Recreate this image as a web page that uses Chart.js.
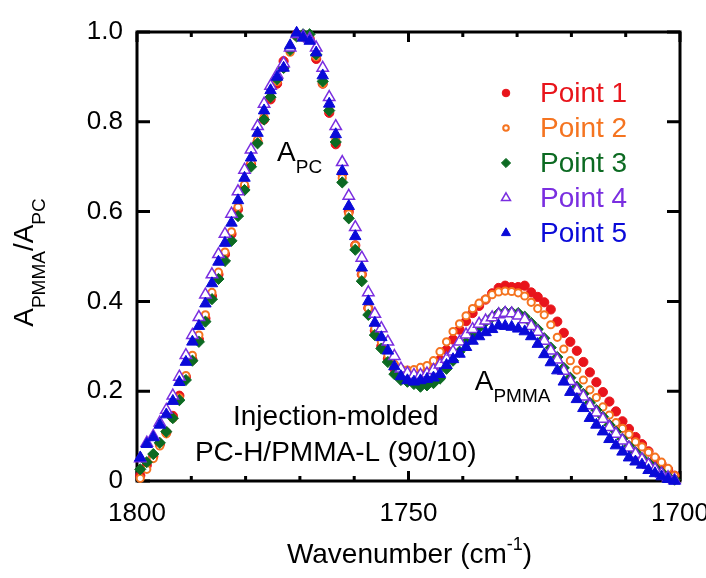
<!DOCTYPE html>
<html>
<head>
<meta charset="utf-8">
<script src="https://cdn.jsdelivr.net/npm/chart.js@4/dist/chart.umd.min.js"></script>
<style>
  html, body { margin: 0; padding: 0; background: #fff; }
  #wrap { width: 706px; height: 578px; }
</style>
</head>
<body>
<div id="wrap"><canvas id="chart" width="706" height="578"></canvas></div>
<script>
// wavenumber (cm-1) of each measured point, same for all five positions
const wavenumber = [
  1799.4, 1798.2, 1797.0, 1795.8, 1794.6, 1793.4, 1792.2, 1791.0, 1789.8, 1788.6,
  1787.4, 1786.2, 1785.0, 1783.8, 1782.6, 1781.4, 1780.2, 1779.0, 1777.8, 1776.6,
  1775.4, 1774.2, 1773.0, 1771.8, 1770.6, 1769.4, 1768.2, 1767.0, 1765.8, 1764.6,
  1763.4, 1762.2, 1761.0, 1759.8, 1758.6, 1757.4, 1756.2, 1755.0, 1753.8, 1752.6,
  1751.4, 1750.2, 1749.0, 1747.8, 1746.6, 1745.4, 1744.2, 1743.0, 1741.8, 1740.6,
  1739.4, 1738.2, 1737.0, 1735.8, 1734.6, 1733.4, 1732.2, 1731.0, 1729.8, 1728.6,
  1727.4, 1726.2, 1725.0, 1723.8, 1722.6, 1721.4, 1720.2, 1719.0, 1717.8, 1716.6,
  1715.4, 1714.2, 1713.0, 1711.8, 1710.6, 1709.4, 1708.2, 1707.0, 1705.8, 1704.6,
  1703.4, 1702.2, 1701.0
];

const point1 = [
  0.012, 0.035, 0.055, 0.082, 0.108, 0.145, 0.190, 0.232, 0.270, 0.315,
  0.362, 0.412, 0.460, 0.505, 0.550, 0.605, 0.655, 0.705, 0.755, 0.805,
  0.850, 0.885, 0.935, 0.960, 0.995, 0.990, 0.985, 0.940, 0.885, 0.820,
  0.750, 0.685, 0.600, 0.525, 0.460, 0.385, 0.335, 0.300, 0.272, 0.250,
  0.238, 0.233, 0.232, 0.236, 0.240, 0.252, 0.270, 0.292, 0.315, 0.337,
  0.356, 0.374, 0.390, 0.404, 0.418, 0.430, 0.435, 0.432, 0.432, 0.435,
  0.420, 0.410, 0.398, 0.382, 0.355, 0.330, 0.310, 0.290, 0.265, 0.242,
  0.220, 0.198, 0.177, 0.155, 0.133, 0.116, 0.098, 0.082, 0.066, 0.050,
  0.038, 0.026, 0.012
];

const point2 = [
  0.006, 0.026, 0.050, 0.078, 0.105, 0.140, 0.185, 0.235, 0.280, 0.325,
  0.370, 0.420, 0.465, 0.510, 0.555, 0.610, 0.660, 0.710, 0.760, 0.810,
  0.855, 0.890, 0.920, 0.955, 0.990, 0.990, 0.990, 0.945, 0.885, 0.825,
  0.760, 0.675, 0.595, 0.525, 0.460, 0.385, 0.340, 0.310, 0.280, 0.260,
  0.250, 0.247, 0.248, 0.253, 0.257, 0.268, 0.288, 0.310, 0.333, 0.350,
  0.368, 0.384, 0.396, 0.405, 0.415, 0.421, 0.423, 0.422, 0.419, 0.412,
  0.398, 0.384, 0.370, 0.348, 0.320, 0.294, 0.268, 0.247, 0.225, 0.203,
  0.186, 0.165, 0.147, 0.130, 0.117, 0.104, 0.087, 0.076, 0.064, 0.053,
  0.042, 0.028, 0.012
];

const point3 = [
  0.026, 0.042, 0.060, 0.085, 0.110, 0.140, 0.180, 0.225, 0.268, 0.310,
  0.355, 0.405, 0.450, 0.490, 0.535, 0.590, 0.648, 0.700, 0.752, 0.805,
  0.855, 0.895, 0.920, 0.960, 0.990, 0.995, 0.995, 0.950, 0.890, 0.825,
  0.755, 0.665, 0.585, 0.515, 0.445, 0.370, 0.325, 0.295, 0.265, 0.238,
  0.225, 0.221, 0.216, 0.210, 0.213, 0.218, 0.228, 0.250, 0.268, 0.288,
  0.308, 0.326, 0.342, 0.355, 0.365, 0.374, 0.377, 0.376, 0.374, 0.366,
  0.352, 0.338, 0.318, 0.297, 0.276, 0.252, 0.230, 0.210, 0.194, 0.174,
  0.158, 0.143, 0.125, 0.110, 0.094, 0.078, 0.064, 0.051, 0.040, 0.029,
  0.019, 0.010, 0.003
];

const point4 = [
  0.050, 0.085, 0.100, 0.130, 0.158, 0.190, 0.232, 0.280, 0.325, 0.365,
  0.415, 0.460, 0.505, 0.550, 0.595, 0.645, 0.693, 0.738, 0.790, 0.840,
  0.880, 0.905, 0.930, 0.965, 0.995, 0.990, 0.985, 0.965, 0.920, 0.855,
  0.790, 0.710, 0.635, 0.565, 0.497, 0.420, 0.372, 0.340, 0.310, 0.278,
  0.250, 0.240, 0.236, 0.236, 0.239, 0.247, 0.259, 0.272, 0.288, 0.310,
  0.326, 0.338, 0.350, 0.357, 0.364, 0.371, 0.374, 0.373, 0.368, 0.360,
  0.345, 0.332, 0.312, 0.290, 0.270, 0.245, 0.222, 0.202, 0.188, 0.168,
  0.152, 0.138, 0.120, 0.105, 0.090, 0.074, 0.060, 0.048, 0.036, 0.026,
  0.016, 0.008, 0.002
];

const point5 = [
  0.052, 0.082, 0.097, 0.125, 0.148, 0.178, 0.220, 0.265, 0.310, 0.345,
  0.395, 0.440, 0.488, 0.530, 0.575, 0.625, 0.675, 0.720, 0.775, 0.825,
  0.870, 0.900, 0.920, 0.970, 0.998, 0.987, 0.980, 0.954, 0.903, 0.840,
  0.772, 0.690, 0.612, 0.545, 0.475, 0.400, 0.352, 0.320, 0.290, 0.255,
  0.233, 0.224, 0.221, 0.224, 0.227, 0.230, 0.238, 0.258, 0.271, 0.283,
  0.298, 0.312, 0.322, 0.331, 0.338, 0.346, 0.345, 0.343, 0.339, 0.333,
  0.322, 0.305, 0.282, 0.264, 0.246, 0.221, 0.198, 0.182, 0.162, 0.140,
  0.125, 0.110, 0.093, 0.079, 0.065, 0.052, 0.043, 0.036, 0.024, 0.017,
  0.010, 0.004, 0.000
];

const seriesNames = ['Point 1', 'Point 2', 'Point 3', 'Point 4', 'Point 5'];
const seriesValues = [point1, point2, point3, point4, point5];

const xLabelTicks = [1800, 1750, 1700];
const xMinorTicks = [1800, 1790, 1780, 1770, 1760, 1750, 1740, 1730, 1720, 1710, 1700];
const yTicks = [0, 0.2, 0.4, 0.6, 0.8, 1.0];

// marker look for each series
const FONT = '"Liberation Sans", Arial, Helvetica, sans-serif';
const markers = [
  { color: '#e8141b', pointStyle: 'circle',   radius: 4.6, fill: '#e8141b', borderWidth: 1, legend: 3.8 },
  { color: '#f57420', pointStyle: 'circle',   radius: 3.6, fill: '#ffffff', borderWidth: 2, legend: 2.8 },
  { color: '#0c6a22', pointStyle: 'rectRot',  radius: 5.6, fill: '#0c6a22', borderWidth: 1, legend: 4.6 },
  { color: '#7a2ee0', pointStyle: 'triangle', radius: 6.6, fill: '#ffffff', borderWidth: 1.5, legend: 5.2 },
  { color: '#0a0ad8', pointStyle: 'triangle', radius: 6.6, fill: '#0a0ad8', borderWidth: 1, legend: 5.2 }
];

const datasets = seriesNames.map((name, i) => ({
  label: name,
  data: wavenumber.map((w, k) => ({ x: w, y: seriesValues[i][k] })),
  showLine: false,
  pointStyle: markers[i].pointStyle,
  pointRadius: markers[i].radius,
  pointHoverRadius: markers[i].radius,
  pointBackgroundColor: markers[i].fill,
  pointBorderColor: markers[i].color,
  pointBorderWidth: markers[i].borderWidth,
  order: seriesNames.length - i,
  clip: false
}));

// draws a run of text parts, some of them sub- or superscript
function richText(ctx, parts, x, y, align) {
  let total = 0;
  parts.forEach(p => {
    ctx.font = p.size + 'px ' + FONT;
    p.w = ctx.measureText(p.t).width;
    total += p.w;
  });
  let cx = align === 'center' ? x - total / 2 : x;
  ctx.textAlign = 'left';
  ctx.textBaseline = 'alphabetic';
  parts.forEach(p => {
    ctx.font = p.size + 'px ' + FONT;
    ctx.fillText(p.t, cx, y + (p.dy || 0));
    cx += p.w;
  });
}

const framePlugin = {
  id: 'frame',
  beforeDatasetsDraw(chart) {
    const { ctx, chartArea: a, scales: { x, y } } = chart;
    ctx.save();
    ctx.strokeStyle = '#000';
    ctx.lineWidth = 3;
    ctx.strokeRect(a.left, a.top, a.right - a.left, a.bottom - a.top);
    ctx.beginPath();
    xMinorTicks.forEach(v => {
      const px = x.getPixelForValue(v);
      const len = v % 50 === 0 ? 10 : 5;
      ctx.moveTo(px, a.bottom); ctx.lineTo(px, a.bottom - len);
      ctx.moveTo(px, a.top); ctx.lineTo(px, a.top + len);
    });
    yTicks.forEach(v => {
      const py = y.getPixelForValue(v);
      ctx.moveTo(a.left, py); ctx.lineTo(a.left + 13, py);
      ctx.moveTo(a.right, py); ctx.lineTo(a.right - 13, py);
    });
    ctx.stroke();
    ctx.restore();
  },
  afterDatasetsDraw(chart) {
    const { ctx, chartArea: a, scales: { x, y } } = chart;
    ctx.save();
    ctx.fillStyle = '#000';

    // peak labels and sample note
    richText(ctx, [{ t: 'A', size: 28 }, { t: 'PC', size: 19, dy: 12 }],
      x.getPixelForValue(1774.2), y.getPixelForValue(0.713), 'left');
    richText(ctx, [{ t: 'A', size: 28 }, { t: 'PMMA', size: 19, dy: 12 }],
      x.getPixelForValue(1737.8), y.getPixelForValue(0.202), 'left');
    richText(ctx, [{ t: 'Injection-molded', size: 28 }],
      x.getPixelForValue(1763.4), y.getPixelForValue(0.124), 'center');
    richText(ctx, [{ t: 'PC-H/PMMA-L (90/10)', size: 28 }],
      x.getPixelForValue(1763.4), y.getPixelForValue(0.044), 'center');

    // legend
    const H = Chart.helpers;
    seriesNames.forEach((name, i) => {
      const m = markers[i];
      const py = a.top + 61 + i * 35;
      const px = a.left + 369;
      ctx.fillStyle = m.fill;
      ctx.strokeStyle = m.color;
      ctx.lineWidth = m.borderWidth;
      if (H && H.drawPoint) {
        H.drawPoint(ctx, { pointStyle: m.pointStyle, radius: m.legend, borderWidth: m.borderWidth, rotation: 0 }, px, py);
      }
      ctx.fillStyle = m.color;
      ctx.font = '28px ' + FONT;
      ctx.textAlign = 'left';
      ctx.textBaseline = 'middle';
      ctx.fillText(name, a.left + 403, py + 1);
    });

    // axis titles
    ctx.fillStyle = '#000';
    richText(ctx, [{ t: 'Wavenumber (cm', size: 28 }, { t: '-1', size: 18, dy: -13 }, { t: ')', size: 28 }],
      (a.left + a.right) / 2 + 1, 563, 'center');
    ctx.translate(33, (a.top + a.bottom) / 2 + 6);
    ctx.rotate(-Math.PI / 2);
    richText(ctx, [{ t: 'A', size: 28 }, { t: 'PMMA', size: 19, dy: 12 },
                   { t: '/A', size: 28 }, { t: 'PC', size: 19, dy: 12 }], 0, 0, 'center');
    ctx.restore();
  }
};

new Chart(document.getElementById('chart'), {
  type: 'scatter',
  data: { datasets },
  options: {
    responsive: false,
    animation: false,
    layout: { padding: { top: 32, right: 26, bottom: 0, left: 0 } },
    plugins: { legend: { display: false }, tooltip: { enabled: false } },
    scales: {
      x: {
        type: 'linear',
        reverse: true,
        min: 1700,
        max: 1800,
        grid: { display: false, drawTicks: false },
        border: { display: false },
        afterBuildTicks: s => { s.ticks = xLabelTicks.map(v => ({ value: v })); },
        afterFit: s => { s.height = 97; s.paddingLeft = 0; s.paddingRight = 0; },
        ticks: {
          padding: 17,
          color: '#000',
          font: { family: FONT, size: 26 },
          maxRotation: 0,
          autoSkip: false,
          callback: v => String(v)
        }
      },
      y: {
        min: 0,
        max: 1.0,
        grid: { display: false, drawTicks: false },
        border: { display: false },
        afterBuildTicks: s => { s.ticks = yTicks.map(v => ({ value: v })); },
        afterFit: s => { s.width = 137; s.paddingTop = 0; s.paddingBottom = 0; },
        ticks: {
          padding: 14,
          color: '#000',
          font: { family: FONT, size: 26 },
          callback: v => (v === 0 ? '0' : v.toFixed(1))
        }
      }
    }
  },
  plugins: [framePlugin]
});
</script>
</body>
</html>
